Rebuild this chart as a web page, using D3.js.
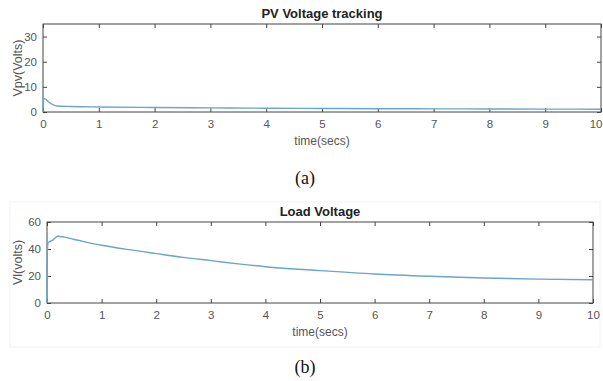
<!DOCTYPE html>
<html>
<head>
<meta charset="utf-8">
<script src="https://cdn.jsdelivr.net/npm/d3@7"></script>
<style>
  body { margin: 0; background: #fff; }
  svg { display: block; }
  .axis text { font-family: "Liberation Sans", Arial, sans-serif; font-size: 11.5px; fill: #555; }
</style>
</head>
<body>
<svg></svg>
<script>
const svg = d3.select("svg");
const width = 603;
const height = 381;
svg.attr("width", width).attr("height", height);

// PV voltage (panel a)
const pvTime = [0, 0.005, 0.03, 0.1, 0.25, 0.5, 1, 2, 3, 4, 5, 6, 7, 8, 9, 10];
const pvVolts = [0, 4.6, 5.3, 4.0, 2.4, 2.2, 2.0, 1.8, 1.65, 1.5, 1.4, 1.3, 1.25, 1.2, 1.15, 1.1];

// Load voltage (panel b)
const loadTime = [0, 0.005, 0.02, 0.1, 0.2, 0.5, 1, 1.5, 2, 2.5, 3, 3.5, 4, 5, 6, 7, 8, 9, 10];
const loadVolts = [0, 38, 44.5, 46.5, 49.5, 47, 42.8, 39.5, 36.6, 33.8, 31.4, 29, 26.9, 24, 21.5, 19.8, 18.5, 17.7, 17.2];

const xTicks = [0, 1, 2, 3, 4, 5, 6, 7, 8, 9, 10];

const panels = [
    { title: "PV Voltage tracking", ylabel: "Vpv(Volts)", caption: "(a)",
      t: pvTime, v: pvVolts, ymax: 35, yTicks: [0, 10, 20, 30],
      left: 43, right: 601, top: 24, bottom: 112,
      titleY: 18, xlabY: 145, capY: 184, ylabX: 22 },
    { title: "Load Voltage", ylabel: "Vl(volts)", caption: "(b)",
      t: loadTime, v: loadVolts, ymax: 60, yTicks: [0, 20, 40, 60],
      left: 47, right: 593, top: 222, bottom: 303,
      titleY: 216, xlabY: 336, capY: 373, ylabX: 22 }
];

// faint frame around the lower figure
svg.append("rect")
    .attr("x", 10).attr("y", 202).attr("width", 590).attr("height", 145)
    .attr("fill", "none").attr("stroke", "#f3f3f3");

panels.forEach(p => {
    const x = d3.scaleLinear().domain([0, 10]).range([p.left, p.right]);
    const y = d3.scaleLinear().domain([0, p.ymax]).range([p.bottom, p.top]);
    const g = svg.append("g");

    // axes with inward ticks, mirrored on top and right
    const xb = g.append("g").attr("class", "axis")
        .attr("transform", `translate(0,${p.bottom})`)
        .call(d3.axisBottom(x).tickValues(xTicks).tickSizeInner(-4).tickSizeOuter(0).tickPadding(8));
    // keep the last label inside the window
    xb.selectAll(".tick text").filter(d => d === 10 && p.right > 598)
        .attr("text-anchor", "end").attr("dx", width - 1 - p.right);
    g.append("g").attr("class", "axis")
        .attr("transform", `translate(0,${p.top})`)
        .call(d3.axisTop(x).tickValues(xTicks).tickSizeInner(-4).tickSizeOuter(0).tickFormat(""));
    g.append("g").attr("class", "axis")
        .attr("transform", `translate(${p.left},0)`)
        .call(d3.axisLeft(y).tickValues(p.yTicks).tickSizeInner(-4).tickSizeOuter(0).tickPadding(6));
    g.append("g").attr("class", "axis")
        .attr("transform", `translate(${p.right},0)`)
        .call(d3.axisRight(y).tickValues(p.yTicks).tickSizeInner(-4).tickSizeOuter(0).tickFormat(""));
    g.selectAll(".axis path").attr("stroke", "none");
    g.selectAll(".axis line").attr("stroke", "#444");

    // plot box
    g.append("rect")
        .attr("x", p.left).attr("y", p.top)
        .attr("width", p.right - p.left).attr("height", p.bottom - p.top)
        .attr("fill", "none").attr("stroke", "#444").attr("stroke-width", 1);

    // curve
    const line = d3.line().x((d, i) => x(p.t[i])).y(d => y(d)).curve(d3.curveMonotoneX);
    g.append("path")
        .datum(p.v)
        .attr("d", line)
        .attr("fill", "none")
        .attr("stroke", "#6aa5cc")
        .attr("stroke-width", 1.4);

    // titles and labels
    g.append("text")
        .attr("x", (p.left + p.right) / 2).attr("y", p.titleY)
        .attr("text-anchor", "middle")
        .attr("font-family", "Liberation Sans, Arial, sans-serif")
        .attr("font-weight", "bold").attr("font-size", 13).attr("fill", "#222")
        .text(p.title);

    g.append("text")
        .attr("x", (p.left + p.right) / 2).attr("y", p.xlabY)
        .attr("text-anchor", "middle")
        .attr("font-family", "Liberation Sans, Arial, sans-serif")
        .attr("font-size", 12).attr("fill", "#555")
        .text("time(secs)");

    g.append("text")
        .attr("transform", `translate(${p.ylabX},${(p.top + p.bottom) / 2}) rotate(-90)`)
        .attr("text-anchor", "middle")
        .attr("font-family", "Liberation Sans, Arial, sans-serif")
        .attr("font-size", 12.5).attr("fill", "#555")
        .text(p.ylabel);

    g.append("text")
        .attr("x", 305).attr("y", p.capY)
        .attr("text-anchor", "middle")
        .attr("font-family", "Liberation Serif, Times New Roman, serif")
        .attr("font-size", 18).attr("fill", "#111")
        .text(p.caption);
});
</script>
</body>
</html>
